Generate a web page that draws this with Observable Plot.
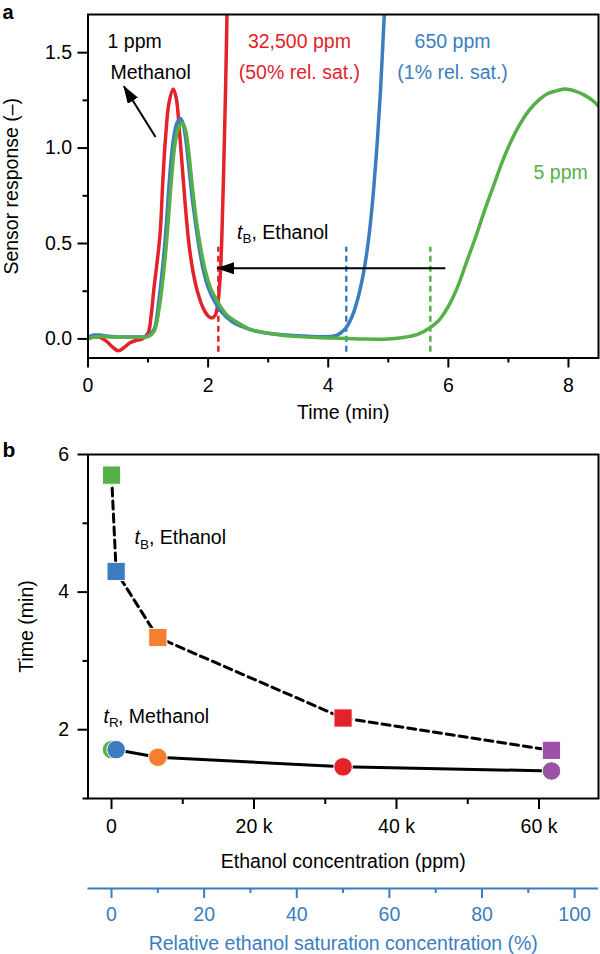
<!DOCTYPE html>
<html><head><meta charset="utf-8">
<script src="https://cdn.jsdelivr.net/npm/d3@7"></script>
<script src="https://cdn.jsdelivr.net/npm/@observablehq/plot@0.6"></script>
<style>
body{margin:0;background:#fff;}
svg{display:block;}
</style></head><body>
<script>
// ---------- colours ----------
const RED = "#e3222a", BLUE = "#3b7dbf", GREEN = "#55b047", ORANGE = "#f47f2e", PURPLE = "#9b52a6";

// ---------- panel a: sensor response traces ----------
const timeRed = [0, 0.1, 0.2, 0.3, 0.4, 0.5, 0.6, 0.7, 0.8, 0.9, 1.0, 1.05, 1.1, 1.15, 1.2, 1.25, 1.29, 1.35, 1.42, 1.47, 1.52, 1.57, 1.62, 1.68, 1.75, 1.83, 1.92, 2.0, 2.06, 2.12, 2.16, 2.2, 2.23, 2.26, 2.29, 2.32];
const respRed = [0.01, 0.012, 0.008, -0.01, -0.04, -0.062, -0.045, -0.02, -0.008, 0.0, 0.03, 0.12, 0.27, 0.4, 0.55, 0.85, 1.05, 1.24, 1.31, 1.26, 1.1, 0.9, 0.7, 0.5, 0.35, 0.24, 0.16, 0.12, 0.11, 0.125, 0.18, 0.32, 0.55, 0.9, 1.3, 1.8];

const timeBlue = [0, 0.1, 0.2, 0.3, 0.5, 0.7, 0.9, 1.0, 1.1, 1.18, 1.25, 1.3, 1.36, 1.42, 1.48, 1.54, 1.58, 1.63, 1.68, 1.75, 1.84, 1.92, 2.0, 2.1, 2.2, 2.4, 2.6, 2.8, 3.0, 3.3, 3.6, 3.9, 4.1, 4.2, 4.3, 4.4, 4.5, 4.59, 4.65, 4.7, 4.76, 4.82, 4.87, 4.91, 4.95];
const respBlue = [0.01, 0.02, 0.02, 0.015, 0.01, 0.01, 0.01, 0.015, 0.05, 0.2, 0.4, 0.58, 0.85, 1.04, 1.13, 1.155, 1.13, 1.04, 0.9, 0.7, 0.5, 0.36, 0.27, 0.2, 0.15, 0.09, 0.06, 0.04, 0.03, 0.02, 0.015, 0.012, 0.015, 0.03, 0.06, 0.12, 0.22, 0.35, 0.47, 0.6, 0.8, 1.05, 1.3, 1.55, 1.8];

const timeGreen = [0, 0.1, 0.2, 0.4, 0.6, 0.8, 1.0, 1.1, 1.18, 1.26, 1.32, 1.38, 1.44, 1.5, 1.57, 1.62, 1.67, 1.73, 1.8, 1.88, 1.96, 2.05, 2.15, 2.3, 2.47, 2.7, 3.0, 3.5, 4.0, 4.5, 5.0, 5.3, 5.5, 5.7, 5.85, 6.0, 6.15, 6.3, 6.45, 6.6, 6.75, 6.9, 7.05, 7.2, 7.35, 7.5, 7.65, 7.8, 7.95, 8.1, 8.25, 8.4, 8.5];
const respGreen = [0.0, 0.01, 0.012, 0.01, 0.01, 0.01, 0.012, 0.04, 0.15, 0.35, 0.55, 0.8, 1.0, 1.1, 1.13, 1.1, 1.0, 0.82, 0.63, 0.47, 0.35, 0.26, 0.2, 0.13, 0.09, 0.05, 0.03, 0.012, 0.005, 0.0, 0.0, 0.01, 0.025, 0.06, 0.1, 0.17, 0.27, 0.4, 0.53, 0.67, 0.8, 0.93, 1.04, 1.13, 1.2, 1.25, 1.285, 1.3, 1.31, 1.3, 1.28, 1.25, 1.22];

// ---------- panel b: retention / breakthrough times ----------
const SAT = 65000; // ppm at 100 % relative saturation
const concPpm = [5, 650, 6500, 32500, 61750];
const tBreak = [5.7, 4.3, 3.34, 2.17, 1.70];
const tRet = [1.71, 1.71, 1.60, 1.46, 1.40];
const pointColors = [GREEN, BLUE, ORANGE, RED, PURPLE];

// ---------- ticks ----------
const aTicksX = [0, 2, 4, 6, 8], aMinorX = [1, 3, 5, 7];
const aTicksY = [0, 0.5, 1.0, 1.5], aMinorY = [0.25, 0.75, 1.25];
const bTicksX = [0, 20000, 40000, 60000], bMinorX = [10000, 30000, 50000];
const bTicksY = [2, 4, 6], bMinorY = [1, 3, 5];
const pctTicks = [0, 20, 40, 60, 80, 100], pctMinor = [10, 30, 50, 70, 90];

// ---------- annotations ----------
const labelsA = [
  {text: "1 ppm", x: 0.325, y: 1.555, color: "black"},
  {text: "Methanol", x: 0.375, y: 1.393, color: "black"}
];
const labelsACentered = [
  {text: "32,500 ppm", x: 3.52, y: 1.555, color: RED},
  {text: "(50% rel. sat.)", x: 3.52, y: 1.393, color: RED},
  {text: "650 ppm", x: 6.07, y: 1.555, color: BLUE},
  {text: "(1% rel. sat.)", x: 6.07, y: 1.393, color: BLUE},
  {text: "5 ppm", x: 7.87, y: 0.871, color: GREEN}
];
const arrowsA = [
  {x1: 1.125, y1: 1.058, x2: 0.597, y2: 1.324},
  {x1: 5.95, y1: 0.37, x2: 2.15, y2: 0.37}
];
const breakLinesA = [
  {t: tBreak[3], lo: -0.07, hi: 0.48, color: RED},
  {t: tBreak[1], lo: -0.07, hi: 0.48, color: BLUE},
  {t: tBreak[0], lo: -0.07, hi: 0.48, color: GREEN}
];
const tbLabelA = [{x: 2.48, y: 0.558}];
const tbLabelB = [{x: 3230, y: 4.79}];
const trLabelB = [{x: -1120, y: 2.19}];

const FONT = "'Liberation Sans', Arial, Helvetica, sans-serif";
const FS = 19.5;
const baseStyle = {fontFamily: FONT, fontSize: FS + "px", background: "white", color: "black", overflow: "visible"};

function subLabel(pos, sym, rest) {
  return [
    Plot.text(pos, {x: "x", y: "y", text: () => "t", fontStyle: "italic", textAnchor: "start", lineAnchor: "middle"}),
    Plot.text(pos, {x: "x", y: "y", text: () => sym, fontSize: 13.5, dx: 5.5, dy: 6.5, textAnchor: "start", lineAnchor: "middle"}),
    Plot.text(pos, {x: "x", y: "y", text: () => rest, dx: 14.5, textAnchor: "start", lineAnchor: "middle"})
  ];
}

// ---------- panel a ----------
const ptsRed = timeRed.map((t, i) => [t, respRed[i]]);
const ptsBlue = timeBlue.map((t, i) => [t, respBlue[i]]);
const ptsGreen = timeGreen.map((t, i) => [t, respGreen[i]]);

const svgA = Plot.plot({
  width: 600, height: 430,
  marginLeft: 87.5, marginRight: 2, marginTop: 14, marginBottom: 72.5,
  style: baseStyle,
  x: {domain: [0, 8.5]},
  y: {domain: [-0.1, 1.7]},
  color: {type: "identity"},
  marks: [
    Plot.ruleX(breakLinesA, {x: "t", y1: "lo", y2: "hi", stroke: "color", strokeWidth: 2.5, strokeDasharray: "6,4"}),
    Plot.line(ptsRed, {stroke: RED, strokeWidth: 3.5, curve: "catmull-rom", clip: true}),
    Plot.line(ptsBlue, {stroke: BLUE, strokeWidth: 3.5, curve: "catmull-rom", clip: true}),
    Plot.line(ptsGreen, {stroke: GREEN, strokeWidth: 3.5, curve: "catmull-rom", clip: true}),
    Plot.link(arrowsA, {x1: "x1", y1: "y1", x2: "x2", y2: "y2", stroke: "black", strokeWidth: 2}),
    Plot.frame({stroke: "black", strokeWidth: 2}),
    Plot.axisX({ticks: aTicksX, tickSize: 10, tickPadding: 10.5, strokeWidth: 2, label: null}),
    Plot.axisX({ticks: aMinorX, tickSize: 5, tickFormat: () => "", strokeWidth: 2, label: null}),
    Plot.axisY({ticks: aTicksY, tickSize: 10, tickPadding: 6, tickFormat: d3.format(".1f"), strokeWidth: 2, label: null}),
    Plot.axisY({ticks: aMinorY, tickSize: 5, tickFormat: () => "", strokeWidth: 2, label: null}),
    Plot.text(labelsA, {x: "x", y: "y", text: "text", fill: "color", textAnchor: "start"}),
    Plot.text(labelsACentered, {x: "x", y: "y", text: "text", fill: "color", textAnchor: "middle"}),
    ...subLabel(tbLabelA, "B", ", Ethanol"),
    Plot.text(["Time (min)"], {frameAnchor: "bottom", dy: 54.5, textAnchor: "middle", lineAnchor: "middle"}),
    Plot.text(["Sensor response (–)"], {frameAnchor: "left", dx: -76.5, rotate: -90, textAnchor: "middle", lineAnchor: "middle"}),
    Plot.text(["a"], {frameAnchor: "top-left", dx: -85.5, dy: -1.9, fontWeight: "bold", fontSize: 20, textAnchor: "start", lineAnchor: "middle"})
  ]
});

// filled arrow heads for the two annotation arrows
{
  const sel = d3.select(svgA);
  const defs = sel.insert("defs", ":first-child");
  defs.append("marker").attr("id", "ahead").attr("viewBox", "0 0 18 12")
    .attr("refX", 17).attr("refY", 6).attr("markerWidth", 18).attr("markerHeight", 12)
    .attr("markerUnits", "userSpaceOnUse").attr("orient", "auto")
    .append("path").attr("d", "M0,0L18,6L0,12Z").attr("fill", "black");
  sel.selectAll('g[aria-label="link"] path, g[aria-label="link"] line').attr("marker-end", "url(#ahead)");
}

// ---------- panel b ----------
const ptsB = concPpm.map((c, i) => ({conc: c, tb: tBreak[i], tr: tRet[i], color: pointColors[i]}));
const domainB = [-3300, 68350];

const svgB = Plot.plot({
  width: 600, height: 440,
  marginLeft: 87.5, marginRight: 2, marginTop: 24, marginBottom: 72,
  style: baseStyle,
  x: {domain: domainB},
  y: {domain: [1, 6]},
  color: {type: "identity"},
  marks: [
    Plot.line(ptsB, {x: "conc", y: "tb", stroke: "black", strokeWidth: 3, strokeDasharray: "8,5"}),
    Plot.line(ptsB, {x: "conc", y: "tr", stroke: "black", strokeWidth: 3}),
    Plot.dot(ptsB, {x: "conc", y: "tb", symbol: "square", r: 10.3, fill: "color", stroke: "white", strokeWidth: 1}),
    Plot.dot(ptsB, {x: "conc", y: "tr", symbol: "circle", r: 9.3, fill: "color", stroke: "white", strokeWidth: 1}),
    Plot.frame({stroke: "black", strokeWidth: 2}),
    Plot.axisX({ticks: bTicksX, tickSize: 11, tickPadding: 10, strokeWidth: 2, label: null,
      tickFormat: d => d === 0 ? "0" : (d / 1000) + " k"}),
    Plot.axisX({ticks: bMinorX, tickSize: 6, tickFormat: () => "", strokeWidth: 2, label: null}),
    Plot.axisY({ticks: bTicksY, tickSize: 10, tickPadding: 9, tickFormat: d3.format("d"), strokeWidth: 2, label: null}),
    Plot.axisY({ticks: bMinorY, tickSize: 5, tickFormat: () => "", strokeWidth: 2, label: null}),
    ...subLabel(tbLabelB, "B", ", Ethanol"),
    ...subLabel(trLabelB, "R", ", Methanol"),
    Plot.text(["Ethanol concentration (ppm)"], {frameAnchor: "bottom", dy: 63, textAnchor: "middle", lineAnchor: "middle"}),
    Plot.text(["Time (min)"], {frameAnchor: "left", dx: -61.5, rotate: -90, textAnchor: "middle", lineAnchor: "middle"}),
    Plot.text(["b"], {frameAnchor: "top-left", dx: -85.5, dy: -4, fontWeight: "bold", fontSize: 21, textAnchor: "start", lineAnchor: "middle"})
  ]
});

// ---------- secondary axis: relative saturation ----------
const svgC = Plot.plot({
  width: 600, height: 84,
  marginLeft: 87.5, marginRight: 2, marginTop: 2, marginBottom: 66,
  style: baseStyle,
  x: {domain: domainB.map(v => v / SAT * 100)},
  y: {domain: [0, 1], axis: null},
  marks: [
    Plot.ruleY([0], {stroke: BLUE, strokeWidth: 2}),
    Plot.axisX({ticks: pctTicks, tickSize: 10, tickPadding: 9, color: BLUE, strokeWidth: 2, label: null}),
    Plot.axisX({ticks: pctMinor, tickSize: 5, tickFormat: () => "", color: BLUE, strokeWidth: 2, label: null}),
    Plot.text(["Relative ethanol saturation concentration (%)"], {frameAnchor: "bottom", dy: 55, fill: BLUE, textAnchor: "middle", lineAnchor: "middle"})
  ]
});

document.body.append(svgA, svgB, svgC);
</script>
</body></html>
